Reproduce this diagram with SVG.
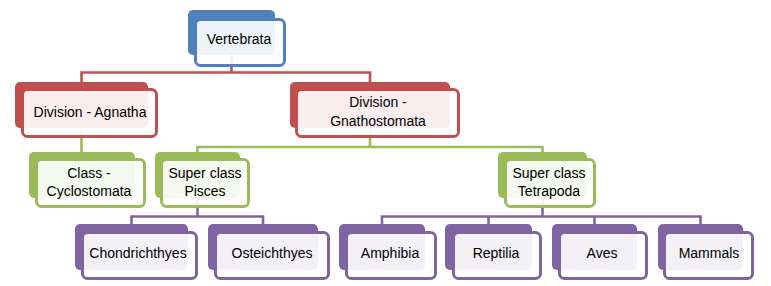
<svg xmlns="http://www.w3.org/2000/svg" width="771" height="286" viewBox="0 0 771 286">
<style>
.t{font-family:"Liberation Sans",Arial,sans-serif;font-size:14px;fill:#000;text-anchor:middle}
.c{fill:none;stroke-width:2.6}
.front{fill:#fff;fill-opacity:0.9;stroke-width:3}
.blue .back{fill:#4f81bd}.blue .front{stroke:#4f81bd}
.red .back{fill:#c0504d}.red .front{stroke:#c0504d}
.green .back{fill:#9bbb59}.green .front{stroke:#9bbb59}
.purple .back{fill:#8064a2}.purple .front{stroke:#8064a2}
</style>
<rect width="771" height="286" fill="#fff"/>
<g id="connectors">
<path class="c" stroke="#c0504d" d="M231.5,55V72.5M81.5,82V72.5H370V82"/>
<path class="c" stroke="#9bbb59" d="M81.5,128V152M370,128V147M197.5,152V147H542.5V152"/>
<path class="c" stroke="#8064a2" d="M197.5,198V216.5M131.5,224V216.5H263V224M542.5,198V216.5M382,224V216.5H700.5V224M488.5,216.5V224M594.5,216.5V224"/>
</g>
<g id="vertebrata" class="blue">
<rect class="back" x="188" y="10" width="87" height="45" rx="5"/>
<rect class="front" x="195.5" y="19.5" width="89" height="46" rx="5"/>
<text class="t" x="239" y="44">Vertebrata</text>
</g>
<g id="agnatha" class="red">
<rect class="back" x="15" y="82" width="133" height="46" rx="5"/>
<rect class="front" x="22.5" y="89.5" width="134" height="47" rx="5"/>
<text class="t" x="90" y="117">Division - Agnatha</text>
</g>
<g id="gnathostomata" class="red">
<rect class="back" x="290" y="82" width="160" height="46" rx="5"/>
<rect class="front" x="296.5" y="89.5" width="162" height="47" rx="5"/>
<text class="t" x="378" y="107">Division -</text>
<text class="t" x="378" y="126">Gnathostomata</text>
</g>
<g id="cyclostomata" class="green">
<rect class="back" x="29" y="152" width="106" height="46" rx="5"/>
<rect class="front" x="36.5" y="159.5" width="108" height="47" rx="5"/>
<text class="t" x="89" y="178">Class -</text>
<text class="t" x="89" y="196">Cyclostomata</text>
</g>
<g id="pisces" class="green">
<rect class="back" x="155" y="152" width="85" height="46" rx="5"/>
<rect class="front" x="161.5" y="159.5" width="87" height="47" rx="5"/>
<text class="t" x="205" y="178">Super class</text>
<text class="t" x="205" y="196">Pisces</text>
</g>
<g id="tetrapoda" class="green">
<rect class="back" x="498" y="152" width="89" height="46" rx="5"/>
<rect class="front" x="505.5" y="159.5" width="89" height="47" rx="5"/>
<text class="t" x="549" y="178">Super class</text>
<text class="t" x="549" y="196">Tetrapoda</text>
</g>
<g id="chondrichthyes" class="purple">
<rect class="back" x="75" y="224" width="113" height="46" rx="5"/>
<rect class="front" x="82.5" y="232.5" width="114" height="46" rx="5"/>
<text class="t" x="138" y="258">Chondrichthyes</text>
</g>
<g id="osteichthyes" class="purple">
<rect class="back" x="208" y="224" width="110" height="46" rx="5"/>
<rect class="front" x="215.5" y="232.5" width="113" height="46" rx="5"/>
<text class="t" x="272" y="258">Osteichthyes</text>
</g>
<g id="amphibia" class="purple">
<rect class="back" x="339" y="224" width="86" height="46" rx="5"/>
<rect class="front" x="346.5" y="232.5" width="89" height="46" rx="5"/>
<text class="t" x="390" y="258">Amphibia</text>
</g>
<g id="reptilia" class="purple">
<rect class="back" x="445" y="224" width="87" height="46" rx="5"/>
<rect class="front" x="453.5" y="232.5" width="87" height="46" rx="5"/>
<text class="t" x="496" y="258">Reptilia</text>
</g>
<g id="aves" class="purple">
<rect class="back" x="552" y="224" width="85" height="46" rx="5"/>
<rect class="front" x="559.5" y="232.5" width="87" height="46" rx="5"/>
<text class="t" x="602" y="258">Aves</text>
</g>
<g id="mammals" class="purple">
<rect class="back" x="658" y="224" width="85" height="46" rx="5"/>
<rect class="front" x="664.5" y="232.5" width="88" height="46" rx="5"/>
<text class="t" x="709" y="258">Mammals</text>
</g>
</svg>
